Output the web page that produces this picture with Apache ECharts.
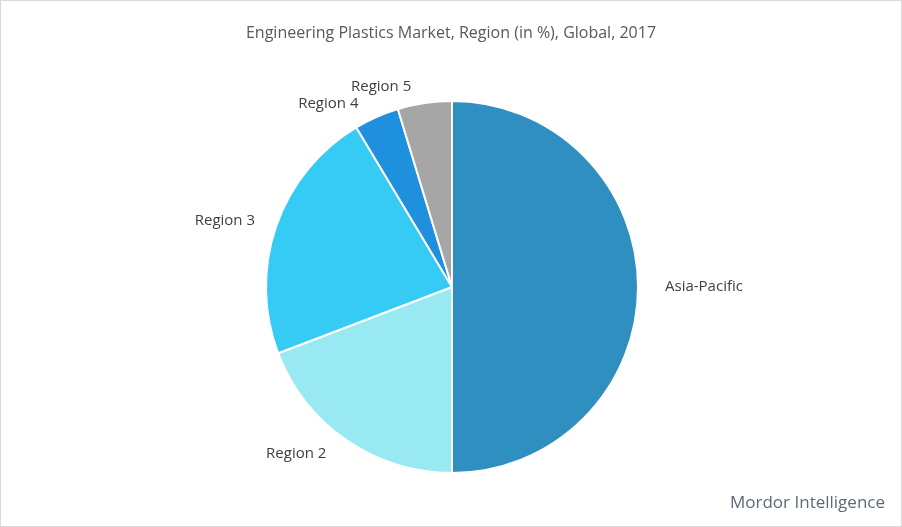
<!DOCTYPE html>
<html>
<head>
<meta charset="utf-8">
<script src="https://cdn.jsdelivr.net/npm/echarts@6/dist/echarts.min.js"></script>
<style>
  html, body { margin: 0; padding: 0; background: #fff; }
  #chart { width: 900px; height: 525px; border: 1px solid #d9d9d9; }
</style>
</head>
<body>
<div id="chart"></div>
<script>
const regions = ['Asia-Pacific', 'Region 2', 'Region 3', 'Region 4', 'Region 5'];
const shares = [50, 19.2, 22.2, 3.9, 4.7];
const colors = ['#2e8fc0', '#98e9f1', '#35cbf5', '#1f90dd', '#a6a6a6'];

const myChart = echarts.init(document.getElementById('chart'));

const option = {
  animation: false,
  title: {
    text: 'Engineering Plastics Market, Region (in %), Global, 2017',
    left: 'center',
    top: 19,
    textStyle: { fontFamily: 'Open Sans', fontSize: 16, fontWeight: 'normal', color: '#595959' }
  },
  graphic: [
    {
      type: 'text',
      right: 16,
      bottom: 14,
      style: { text: 'Mordor Intelligence', fontFamily: 'Open Sans', fontSize: 17, fill: '#5a6b78' }
    }
  ],
  series: [
    {
      type: 'pie',
      center: [451, 286],
      radius: 186,
      startAngle: 90,
      clockwise: true,
      itemStyle: { borderColor: '#fff', borderWidth: 2 },
      label: {
        show: true,
        formatter: '{b}',
        fontFamily: 'Open Sans',
        fontSize: 15,
        color: '#404040'
      },
      labelLine: { show: false, length: 16, length2: 6 },
      data: regions.map((name, i) => ({
        name: name,
        value: shares[i],
        itemStyle: { color: colors[i] }
      }))
    }
  ]
};

myChart.setOption(option);
</script>
</body>
</html>
